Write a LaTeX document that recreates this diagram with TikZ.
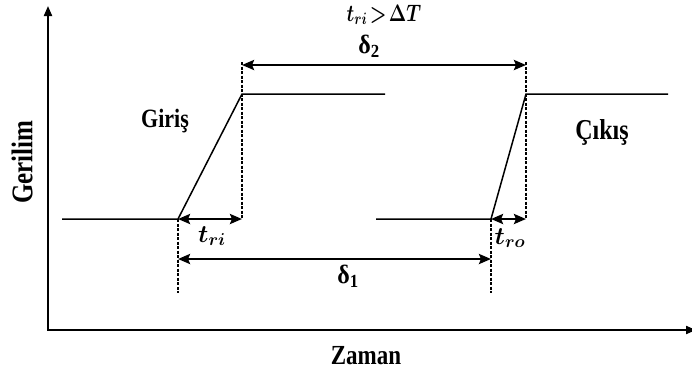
\documentclass[tikz,border=0pt]{standalone}
\usepackage{fontspec}
\usepackage{graphicx}
\setmainfont{Liberation Serif}
\usetikzlibrary{arrows.meta}
\newcommand{\tallbox}[1]{\scalebox{1}[1.2]{#1}}
\begin{document}
\begin{tikzpicture}[x=1pt,y=-1pt,
  axis/.style={line width=2pt,-{Triangle[length=10pt,width=8pt]}},
  sig/.style={line width=1.5pt},
  guide/.style={line width=1.2pt,dash pattern=on 3pt off 1.5pt},
  dim/.style={line width=2.6pt,{Stealth[length=12pt,width=10pt,inset=2pt]}-{Stealth[length=12pt,width=10pt,inset=2pt]}},
  lbl/.style={font=\bfseries\fontsize{22}{26}\selectfont,inner sep=0pt},
  mlbl/.style={font=\fontsize{26}{30}\selectfont\boldmath,inner sep=0pt}]
\useasboundingbox (0,0) rectangle (692,376);
% axes
\coordinate (O) at (48,330);
\coordinate (Ytop) at (48,6);
\coordinate (Xend) at (696,330);
\draw[axis] (O) -- (Ytop);
\draw[axis] ([xshift=-1pt]O) -- (Xend);
% input signal
\coordinate (i0) at (62,219);
\coordinate (i1) at (178,219);
\coordinate (i2) at (242,94);
\coordinate (i3) at (385,94);
\draw[sig] (i0) -- (i1) -- (i2) -- (i3);
% output signal
\coordinate (o0) at (376,219);
\coordinate (o1) at (491,219);
\coordinate (o2) at (526,94);
\coordinate (o3) at (668,94);
\draw[sig] (o0) -- (o1) -- (o2) -- (o3);
% guides
\coordinate (g1b) at (178,293);
\coordinate (g2t) at (242,62);
\coordinate (g2b) at (242,219);
\coordinate (g3b) at (491,293);
\coordinate (g4t) at (526,62);
\coordinate (g4b) at (526,219);
\draw[guide] (i1) -- (g1b);
\draw[guide] (g2t) -- (g2b);
\draw[guide] (o1) -- (g3b);
\draw[guide] (g4t) -- (g4b);
% dimension arrows
\coordinate (d1a) at (178,259);
\coordinate (d1b) at (491,259);
\coordinate (d2a) at (242,65);
\coordinate (d2b) at (526,65);
\draw[dim] (i1) -- (g2b);
\draw[dim] (o1) -- (g4b);
\draw[dim] (d1a) -- (d1b);
\draw[dim] (d2a) -- (d2b);
% labels
\node[mlbl] (tri) at (212,236) {$t_{ri}$};
\node[mlbl] (tro) at (510,238) {$t_{ro}$};
\node[lbl,font=\bfseries\fontsize{24}{28}\selectfont] (del1) at (348,276) {\scalebox{1}[1.1]{δ\textsubscript{1}}};
\node[lbl,font=\bfseries\fontsize{24}{28}\selectfont] (del2) at (369,46) {\scalebox{1}[1.1]{δ\textsubscript{2}}};
\node[mlbl,font=\fontsize{20}{24}\selectfont\boldmath] (cond) at (384,15) {\scalebox{0.9}[1.15]{$t_{ri}\!>\!\Delta T$}};
\node[lbl] (gir) at (165,121) {\tallbox{Giriş}};
\node[lbl,font=\bfseries\fontsize{24}{28}\selectfont] (cik) at (602,132) {\tallbox{Çıkış}};
\node[lbl,rotate=90,font=\bfseries\fontsize{25}{28}\selectfont] (ger) at (22,162) {\tallbox{Gerilim}};
\node[lbl,font=\bfseries\fontsize{23}{28}\selectfont] (zam) at (366,356) {\tallbox{Zaman}};
\end{tikzpicture}
\end{document}
